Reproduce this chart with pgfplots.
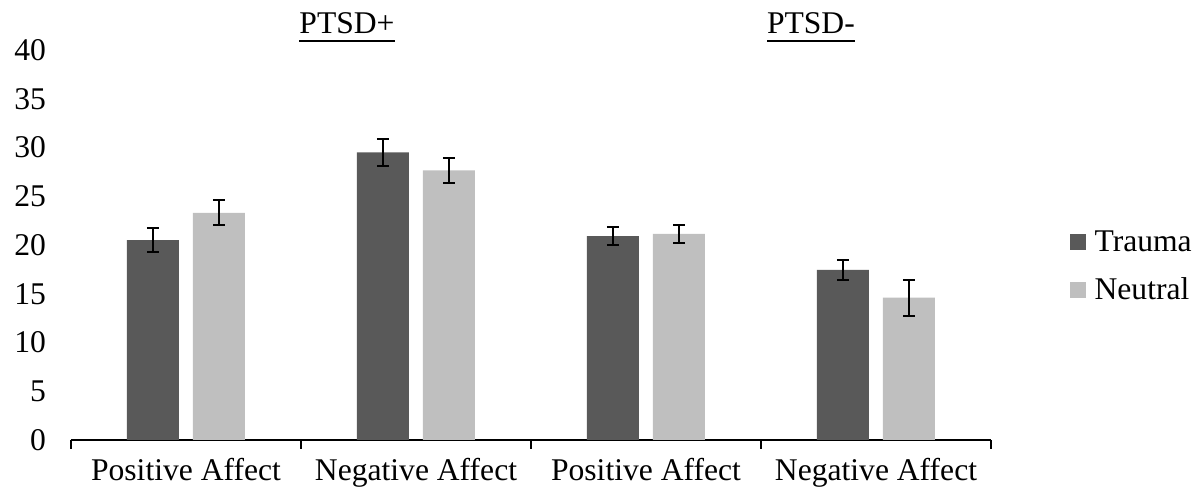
\documentclass[border=0pt]{standalone}
\usepackage{fontspec}
\setmainfont{Liberation Serif}
\usepackage{pgfplots}
\pgfplotsset{compat=1.18}
\definecolor{dark}{HTML}{595959}
\definecolor{light}{HTML}{BFBFBF}
\newcommand\ul[1]{\setbox0\hbox{#1}\rlap{\rule[-4pt]{\wd0}{0.9pt}}\box0}
\begin{document}
\begin{tikzpicture}[font=\fontsize{15.8}{18}\selectfont]
\useasboundingbox (-35.5pt,-28.5pt) rectangle (562.5pt,220pt);
\begin{axis}[
  at={(0pt,0pt)}, anchor=origin,
  scale only axis, width=460pt, height=195pt,
  xmin=0, xmax=4, ymin=0, ymax=40,
  ytick={0,5,...,40},
  xtick={0.5,1.5,2.5,3.5},
  xticklabels={Positive Affect,Negative Affect,Positive Affect,Negative Affect},
  minor xtick={0,1,2,3,4},
  major tick length=0pt, minor tick length=4.5pt,
  tick align=outside,
  tick style={black, line width=1pt},
  axis x line*=bottom, axis y line*=left,
  y axis line style={draw=none},
  x axis line style={black, line width=1pt},
  xticklabel style={yshift=-5.5pt},
  yticklabel style={xshift=-9pt},
  /pgf/number format/assume math mode=true,
  ybar=7pt, bar width=26pt,
  clip=false,
  legend style={draw=none, at={(1.085,0.445)}, anchor=west, inner sep=0pt,
    row sep=7.5pt, /tikz/every odd column/.append style={column sep=2.5pt}},
  legend cell align=left,
  legend image code/.code={\fill[#1] (0pt,-4pt) rectangle (8pt,4pt);},
  error bars/y dir=both, error bars/y explicit,
  error bars/error bar style={black, line width=1pt},
  error bars/error mark options={rotate=90, mark size=3pt, line width=1pt, black},
]
\addplot[fill=dark, draw=none] coordinates {
  (0.5,20.5) +- (0,1.2)
  (1.5,29.5) +- (0,1.4)
  (2.5,20.9) +- (0,0.95)
  (3.5,17.45) +- (0,1.0)
};
\addplot[fill=light, draw=none] coordinates {
  (0.5,23.3) +- (0,1.3)
  (1.5,27.65) +- (0,1.3)
  (2.5,21.15) +- (0,0.95)
  (3.5,14.6) +- (0,1.85)
};
\legend{Trauma,Neutral}
\node[anchor=base] at (axis cs:1.2,41.65) {\ul{PTSD+}};
\node[anchor=base] at (axis cs:3.217,41.65) {\ul{PTSD-}};
\end{axis}
\end{tikzpicture}
\end{document}
